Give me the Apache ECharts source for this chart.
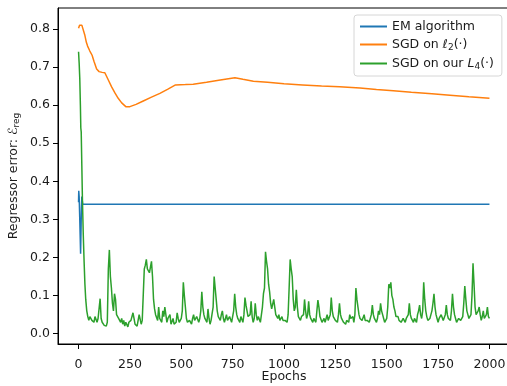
<!DOCTYPE html>
<html>
<head>
<meta charset="utf-8">
<script src="https://cdn.jsdelivr.net/npm/echarts@6/dist/echarts.min.js"></script>
<style>
  html, body { margin: 0; padding: 0; background: #fff; }
  #chart { width: 507px; height: 386px; }
</style>
</head>
<body>
<div id="chart"></div>
<script>
// tick labels
const xTicks = [0, 250, 500, 750, 1000, 1250, 1500, 1750, 2000];
const yTicks = [0, 0.1, 0.2, 0.3, 0.4, 0.5, 0.6, 0.7, 0.8];

// EM algorithm
const emEpochs = [0, 1, 3, 6, 10, 14, 16, 20, 2000];
const emValues = [0.345, 0.375, 0.36, 0.3, 0.21, 0.33, 0.36, 0.34, 0.34];

// SGD on l2
const l2Epochs = [0, 5, 11, 16, 22, 30, 38, 44, 55, 66, 75, 88, 100, 115, 128, 145, 161, 177, 193, 210,
  230, 250, 280, 315, 355, 396, 435, 472, 520, 558, 623, 690, 761, 800, 851, 920, 1000, 1090, 1183,
  1270, 1370, 1450, 1532, 1620, 1720, 1808, 1900, 2000];
const l2Values = [0.802, 0.81, 0.814, 0.81, 0.805, 0.785, 0.765, 0.755, 0.742, 0.731, 0.715, 0.695, 0.688,
  0.686, 0.685, 0.666, 0.648, 0.632, 0.618, 0.606, 0.596, 0.596, 0.602, 0.611, 0.621, 0.631, 0.642,
  0.653, 0.654, 0.655, 0.66, 0.666, 0.672, 0.668, 0.663, 0.66, 0.656, 0.653, 0.65, 0.648, 0.645,
  0.641, 0.638, 0.634, 0.63, 0.626, 0.622, 0.618];

// SGD on L4: first epochs, then every 5 epochs from 60 (rows of 50 epochs)
const l4HeadEpochs = [0, 3, 6, 9, 11, 13, 16, 19, 23, 27, 31, 35, 40, 45, 50, 55];
const l4HeadValues = [0.74, 0.71, 0.67, 0.6, 0.54, 0.53, 0.44, 0.35, 0.26, 0.19, 0.13, 0.09, 0.06, 0.045, 0.035, 0.045];
const l4TailStart = 60, l4TailStep = 5;
const l4TailValues = [
  0.05, 0.035, 0.04, 0.03, 0.045, 0.05, 0.03, 0.04, 0.035, 0.092,      // 60
  0.04, 0.03, 0.03, 0.022, 0.025, 0.02, 0.03, 0.17, 0.22, 0.15,        // 110
  0.12, 0.08, 0.06, 0.105, 0.09, 0.05, 0.055, 0.04, 0.045, 0.03,       // 160
  0.04, 0.025, 0.035, 0.02, 0.03, 0.025, 0.018, 0.03, 0.025, 0.035,    // 210
  0.03, 0.055, 0.04, 0.025, 0.03, 0.02, 0.025, 0.05, 0.045, 0.025,     // 260
  0.035, 0.04, 0.17, 0.18, 0.195, 0.17, 0.165, 0.16, 0.16, 0.19,       // 310
  0.15, 0.09, 0.065, 0.05, 0.045, 0.035, 0.07, 0.04, 0.035, 0.03,      // 360
  0.06, 0.045, 0.07, 0.05, 0.03, 0.04, 0.035, 0.05, 0.025, 0.03,       // 410
  0.04, 0.025, 0.02, 0.03, 0.055, 0.04, 0.03, 0.035, 0.04, 0.06,       // 460
  0.135, 0.1, 0.07, 0.04, 0.03, 0.025, 0.035, 0.03, 0.025, 0.04,       // 510
  0.05, 0.035, 0.03, 0.045, 0.045, 0.03, 0.04, 0.06, 0.11, 0.07,       // 560
  0.05, 0.04, 0.035, 0.03, 0.065, 0.04, 0.025, 0.035, 0.04, 0.07,      // 610
  0.15, 0.12, 0.09, 0.06, 0.045, 0.04, 0.035, 0.05, 0.06, 0.04,        // 660
  0.03, 0.04, 0.05, 0.035, 0.03, 0.045, 0.04, 0.03, 0.025, 0.06,       // 710
  0.105, 0.07, 0.05, 0.04, 0.035, 0.03, 0.045, 0.04, 0.03, 0.05,       // 760
  0.095, 0.075, 0.06, 0.045, 0.04, 0.05, 0.085, 0.045, 0.03, 0.04,     // 810
  0.08, 0.05, 0.035, 0.045, 0.04, 0.03, 0.03, 0.07, 0.105, 0.12,       // 860
  0.215, 0.19, 0.17, 0.13, 0.11, 0.08, 0.065, 0.06, 0.09, 0.07,        // 910
  0.05, 0.045, 0.04, 0.05, 0.035, 0.03, 0.045, 0.035, 0.03, 0.035,     // 960
  0.04, 0.03, 0.05, 0.12, 0.195, 0.17, 0.15, 0.09, 0.06, 0.07,         // 1010
  0.115, 0.07, 0.045, 0.04, 0.035, 0.045, 0.04, 0.05, 0.09, 0.06,      // 1060
  0.04, 0.05, 0.085, 0.05, 0.04, 0.035, 0.03, 0.04, 0.035, 0.03,       // 1110
  0.06, 0.088, 0.07, 0.045, 0.04, 0.03, 0.035, 0.04, 0.03, 0.04,       // 1160
  0.05, 0.035, 0.03, 0.05, 0.095, 0.06, 0.045, 0.04, 0.035, 0.03,      // 1210
  0.03, 0.05, 0.08, 0.05, 0.04, 0.035, 0.03, 0.025, 0.025, 0.035,      // 1260
  0.04, 0.03, 0.05, 0.04, 0.035, 0.045, 0.03, 0.05, 0.12, 0.09,        // 1310
  0.07, 0.05, 0.04, 0.045, 0.035, 0.04, 0.05, 0.035, 0.03, 0.035,      // 1360
  0.04, 0.03, 0.035, 0.05, 0.075, 0.05, 0.04, 0.035, 0.03, 0.04,       // 1410
  0.06, 0.05, 0.08, 0.06, 0.05, 0.04, 0.03, 0.035, 0.04, 0.07,         // 1460
  0.13, 0.12, 0.135, 0.1, 0.09, 0.07, 0.06, 0.045, 0.04, 0.045,        // 1510
  0.035, 0.04, 0.03, 0.035, 0.04, 0.035, 0.03, 0.04, 0.045, 0.05,      // 1560
  0.08, 0.05, 0.04, 0.035, 0.03, 0.04, 0.035, 0.03, 0.05, 0.06,        // 1610
  0.075, 0.05, 0.04, 0.06, 0.135, 0.09, 0.06, 0.045, 0.035, 0.04,      // 1660
  0.04, 0.05, 0.06, 0.08, 0.105, 0.07, 0.05, 0.04, 0.03, 0.04,         // 1710
  0.035, 0.05, 0.045, 0.035, 0.03, 0.05, 0.075, 0.05, 0.04, 0.045,     // 1760
  0.035, 0.06, 0.105, 0.07, 0.05, 0.04, 0.03, 0.035, 0.04, 0.045,      // 1810
  0.035, 0.04, 0.045, 0.08, 0.125, 0.09, 0.06, 0.05, 0.04, 0.045,      // 1860
  0.05, 0.1, 0.185, 0.13, 0.07, 0.05, 0.045, 0.06, 0.07, 0.05,         // 1910
  0.035, 0.045, 0.06, 0.04, 0.04, 0.05, 0.07, 0.045, 0.04              // 1960
];

const pairs = (xs, ys) => xs.map((x, i) => [x, ys[i]]);
const l4Data = pairs(l4HeadEpochs, l4HeadValues)
  .concat(l4TailValues.map((v, i) => [l4TailStart + i * l4TailStep, v]));

const FONT = "DejaVu Sans";
const TXT = "#1a1a1a";

const chart = echarts.init(document.getElementById("chart"));

chart.setOption({
  animation: false,
  textStyle: { fontFamily: FONT },
  grid: {
    left: 58, top: 8, width: 452, height: 336,
    containLabel: false, outerBoundsMode: "none",
    show: true, borderColor: "#000", borderWidth: 1, backgroundColor: "transparent"
  },
  legend: {
    orient: "vertical",
    left: 354, top: 15,
    padding: [5, 8, 5, 5],
    itemWidth: 27, itemHeight: 14, itemGap: 5,
    itemStyle: { opacity: 0 },
    backgroundColor: "rgba(255,255,255,0.8)",
    borderColor: "#d6d6d6", borderWidth: 1, borderRadius: 3,
    textStyle: {
      fontFamily: FONT, fontSize: 12.5, color: TXT,
      rich: {
        it: { fontFamily: FONT, fontSize: 12.5, fontStyle: "italic", color: TXT },
        sub: { fontFamily: FONT, fontSize: 9, color: TXT, verticalAlign: "bottom", padding: [6, 0, 0, 0] }
      }
    },
    formatter: (name) => {
      if (name === "SGD on l2") return "SGD on {it|ℓ}{sub|2}(·)";
      if (name === "SGD on L4") return "SGD on our {it|L}{sub|4}(·)";
      return name;
    },
    data: ["EM algorithm", "SGD on l2", "SGD on L4"]
  },
  xAxis: {
    type: "value",
    min: -100, max: 2100,
    name: "Epochs", nameLocation: "middle", nameGap: 26, nameMoveOverlap: false,
    nameTextStyle: { fontFamily: FONT, fontSize: 12.5, color: TXT },
    axisLine: { onZero: false, lineStyle: { color: "#000", width: 1 } },
    axisTick: { show: true, inside: false, length: 5, customValues: xTicks, lineStyle: { color: "#000" } },
    axisLabel: {
      customValues: xTicks, margin: 14, fontSize: 12.5, color: TXT, fontFamily: FONT,
      formatter: (v) => String(v)
    },
    splitLine: { show: false }
  },
  yAxis: {
    type: "value",
    min: -0.027, max: 0.855,
    name: "{t|Regressor error: }{it|ℰ}{sub|reg}",
    nameLocation: "middle", nameGap: 37, nameMoveOverlap: false,
    nameTextStyle: {
      fontFamily: FONT, fontSize: 12.5, color: TXT,
      rich: {
        t: { fontFamily: FONT, fontSize: 12.5, color: TXT },
        it: { fontFamily: FONT, fontSize: 12.5, fontStyle: "italic", color: TXT },
        sub: { fontFamily: FONT, fontSize: 9, color: TXT, verticalAlign: "bottom", padding: [6, 0, 0, 0] }
      }
    },
    axisLine: { onZero: false, lineStyle: { color: "#000", width: 1 } },
    axisTick: { show: true, inside: false, length: 5, customValues: yTicks, lineStyle: { color: "#000" } },
    axisLabel: {
      customValues: yTicks, margin: 8, fontSize: 12.5, color: TXT, fontFamily: FONT,
      formatter: (v) => v.toFixed(1)
    },
    splitLine: { show: false }
  },
  series: [
    {
      name: "EM algorithm", type: "line", symbol: "none",
      data: pairs(emEpochs, emValues),
      lineStyle: { color: "#1f77b4", width: 1.5 }, itemStyle: { color: "#1f77b4" }
    },
    {
      name: "SGD on l2", type: "line", symbol: "none",
      data: pairs(l2Epochs, l2Values),
      lineStyle: { color: "#ff7f0e", width: 1.5 }, itemStyle: { color: "#ff7f0e" }
    },
    {
      name: "SGD on L4", type: "line", symbol: "none",
      data: l4Data,
      lineStyle: { color: "#2ca02c", width: 1.5 }, itemStyle: { color: "#2ca02c" }
    }
  ]
});
</script>
</body>
</html>
